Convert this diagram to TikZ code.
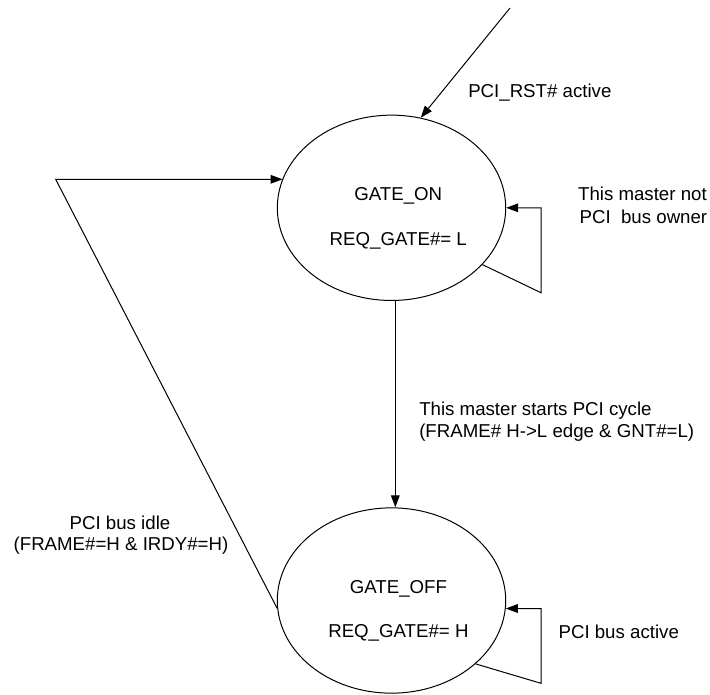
\documentclass[tikz,border=0pt]{standalone}
\usepackage{fontspec}
\setmainfont{Liberation Sans}
\usetikzlibrary{shapes.geometric,arrows.meta}
\begin{document}
\begin{tikzpicture}[x=0.75pt,y=-0.75pt,
  every node/.style={font=\fontsize{14}{16.5}\selectfont},
  state/.style={draw,ellipse,line width=0.75pt,minimum width=171.3pt,minimum height=139pt,inner sep=0pt},
  conn/.style={line width=0.75pt},
  arr/.style={conn,-{Triangle[length=9pt,width=6.5pt]}},
  lbl/.style={inner sep=0pt,anchor=base},
  lblw/.style={inner sep=0pt,anchor=base west},
  lble/.style={inner sep=0pt,anchor=base east}]
\useasboundingbox (0,0) rectangle (710,694);
\node[state] (on) at (391.5,207.8) {};
\node[state] (off) at (391.5,600.5) {};
\node[lbl] (on1) at (398.3,200) {GATE\_ON};
\node[lbl] (on2) at (398.3,245) {REQ\_GATE\#= L};
\node[lbl] (off1) at (398.4,593) {GATE\_OFF};
\node[lbl] (off2) at (398.4,637) {REQ\_GATE\#= H};
\coordinate (rst) at (510,8);
\coordinate (lc) at (55.7,179.3);
\coordinate (l1) at (541,292.7);
\coordinate (l2) at (541,683.3);
\draw[arr] (rst) -- (on.72);
\draw[arr] (on.-32) -- (l1) |- (on.east);
\draw[arr] (off.-37) -- (l2) |- (off.-4);
\draw[arr] (on.south -| 395.3,0) -- (off.north -| 395.3,0);
\draw[arr] (off.184) -- (lc) -- (lc -| on.165);
\node[lblw] (t1) at (468,97) {PCI\_RST\# active};
\node[lble] (t2a) at (707,200) {This master not};
\node[lble] (t2b) at (707.5,223) {PCI\ \ bus owner};
\node[lblw] (t3a) at (419,415) {This master starts PCI cycle};
\node[lblw] (t3b) at (419,437) {(FRAME\# H->L edge \& GNT\#=L)};
\node[lbl] (t4a) at (120,529) {PCI bus idle};
\node[lbl] (t4b) at (121,550) {(FRAME\#=H \& IRDY\#=H)};
\node[lblw] (t5) at (558.3,638) {PCI bus active};
\end{tikzpicture}
\end{document}
